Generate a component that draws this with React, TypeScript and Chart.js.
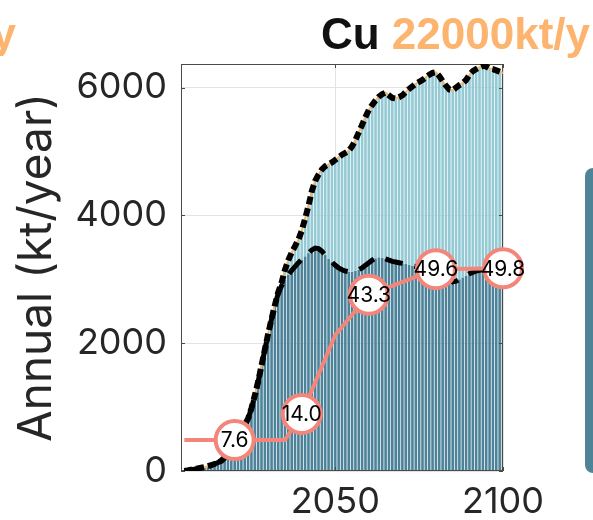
import React, { useEffect, useRef } from 'react';
import { Chart, registerables } from 'chart.js';

Chart.register(...registerables);

// Years 2005..2100 (one bar per year)
const YEARS: number[] = Array.from({ length: 96 }, (_, i) => 2005 + i);

// Total annual demand (kt/year) – top of light area
const TOTAL: number[] = [
  0, 10, 20, 30, 40, 50, 60, 75, 90, 110,
  130, 160, 210, 300, 400, 480, 560, 640, 720, 820,
  980, 1180, 1400, 1650, 1900, 2150, 2380, 2600, 2800, 2950,
  3150, 3300, 3420, 3520, 3620, 3760, 3950, 4150, 4380, 4540,
  4640, 4720, 4770, 4800, 4830, 4870, 4910, 4950, 4980, 5010,
  5080, 5180, 5300, 5420, 5540, 5650, 5730, 5800, 5860, 5900,
  5920, 5880, 5840, 5830, 5850, 5880, 5930, 5980, 6020, 6060,
  6090, 6120, 6160, 6200, 6230, 6240, 6180, 6100, 6030, 5970,
  5960, 6000, 6040, 6070, 6120, 6200, 6260, 6290, 6320, 6340,
  6330, 6300, 6290, 6270, 6250, 6230,
];

// Lower (dark) component (kt/year)
const BASE: number[] = [
  0, 10, 20, 30, 40, 50, 60, 75, 90, 110,
  130, 160, 210, 300, 400, 480, 560, 640, 720, 820,
  980, 1180, 1400, 1650, 1900, 2150, 2380, 2600, 2780, 2900,
  2990, 3070, 3140, 3200, 3260, 3310, 3360, 3410, 3460, 3490,
  3480, 3440, 3380, 3320, 3270, 3220, 3180, 3150, 3130, 3120,
  3120, 3130, 3150, 3180, 3220, 3260, 3300, 3330, 3345, 3340,
  3320, 3300, 3280, 3270, 3260, 3250, 3240, 3230, 3210, 3200,
  3190, 3180, 3170, 3160, 3150, 3130, 3100, 3060, 3020, 2980,
  2960, 2970, 3000, 3030, 3060, 3090, 3110, 3130, 3140, 3150,
  3160, 3170, 3180, 3190, 3200, 3210,
];

// Share line (%), on a hidden 0-100 axis
const SHARE_YEARS: number[] = [2005, 2020, 2035, 2040, 2050, 2060, 2080, 2100];
const SHARE_VALUES: number[] = [7.6, 7.6, 7.6, 14.0, 33.4, 43.3, 49.6, 49.8];
const SHARE_LABELS: string[] = ['', '7.6', '', '14.0', '', '43.3', '49.6', '49.8'];

const X_TICKS: number[] = [2050, 2100];
const Y_TICKS: number[] = [0, 2000, 4000, 6000];

const SALMON = '#f3857a';
const DARK = '#4d8399';
const LIGHT = '#95cad5';
const ORANGE = '#f7b766';
const TEXT = '#262626';

export default function App() {
  const ref = useRef<HTMLCanvasElement>(null);

  useEffect(() => {
    const canvas = ref.current;
    if (!canvas) return;

    const dark = YEARS.map((x, i) => ({ x, y: BASE[i] }));
    const light = YEARS.map((x, i) => ({ x, y: [BASE[i], TOTAL[i]] }));
    const totalLine = YEARS.map((x, i) => ({ x, y: TOTAL[i] }));
    const baseLine = YEARS.map((x, i) => ({ x, y: BASE[i] }));
    const share = SHARE_YEARS.map((x, i) => ({ x, y: SHARE_VALUES[i] }));

    const tickFont = { family: 'Inter', size: 36 };

    const framePlugin = {
      id: 'frame',
      afterDatasetDraw(chart: any, args: any) {
        if (chart.data.datasets[args.index].label !== 'Light') return;
        const { ctx, chartArea: a, scales } = chart;
        ctx.save();
        ctx.strokeStyle = '#4a4a4a';
        ctx.lineWidth = 1;
        ctx.strokeRect(a.left + 0.5, a.top + 0.5, a.right - a.left - 1, a.bottom - a.top - 1);
        ctx.beginPath();
        for (const v of Y_TICKS) {
          const y = Math.round(scales.y.getPixelForValue(v)) + 0.5;
          ctx.moveTo(a.left, y); ctx.lineTo(a.left + 4, y);
          ctx.moveTo(a.right, y); ctx.lineTo(a.right - 4, y);
        }
        for (const v of X_TICKS) {
          const x = Math.round(scales.x.getPixelForValue(v)) + 0.5;
          ctx.moveTo(x, a.bottom); ctx.lineTo(x, a.bottom - 4);
          ctx.moveTo(x, a.top); ctx.lineTo(x, a.top + 4);
        }
        ctx.stroke();
        ctx.restore();
      },
    };

    const labelPlugin = {
      id: 'shareLabels',
      afterDatasetsDraw(chart: any) {
        const idx = chart.data.datasets.findIndex((d: any) => d.label === 'Share');
        const meta = chart.getDatasetMeta(idx);
        const { ctx } = chart;
        ctx.save();
        ctx.font = '21px Inter';
        ctx.fillStyle = '#000';
        ctx.textAlign = 'center';
        ctx.textBaseline = 'middle';
        meta.data.forEach((pt: any, i: number) => {
          if (SHARE_LABELS[i]) ctx.fillText(SHARE_LABELS[i], pt.x, pt.y + 1);
        });
        ctx.restore();
      },
    };

    const chart = new Chart(canvas, {
      type: 'bar',
      data: {
        datasets: [
          {
            type: 'line', label: 'Share', data: share, yAxisID: 'y2',
            borderColor: SALMON, borderWidth: 4,
            pointRadius: SHARE_LABELS.map((l) => (l ? 19 : 0)),
            pointBackgroundColor: '#fff', pointBorderColor: SALMON, pointBorderWidth: 4,
            clip: false, order: 0,
          } as any,
          {
            type: 'line', label: 'Total', data: totalLine,
            borderColor: '#000', borderWidth: 6, borderDash: [8, 4], pointRadius: 0, order: 1,
          } as any,
          {
            type: 'line', label: 'Base', data: baseLine,
            borderColor: '#000', borderWidth: 5, borderDash: [18, 12], pointRadius: 0, order: 2,
          } as any,
          {
            type: 'line', label: 'TotalOrange', data: totalLine,
            borderColor: ORANGE, borderWidth: 2, pointRadius: 0, order: 3,
          } as any,
          {
            type: 'bar', label: 'Light', data: light, backgroundColor: LIGHT,
            barPercentage: 0.78, categoryPercentage: 1, grouped: false, order: 4,
          } as any,
          {
            type: 'bar', label: 'Dark', data: dark, backgroundColor: DARK,
            barPercentage: 0.78, categoryPercentage: 1, grouped: false, order: 5,
          } as any,
        ],
      },
      options: {
        animation: false,
        responsive: false,
        events: [],
        layout: { padding: { top: 64, right: 90, bottom: 0, left: 0 } },
        plugins: { legend: { display: false }, tooltip: { enabled: false } },
        scales: {
          x: {
            type: 'linear', min: 2004, max: 2100, offset: false,
            grid: { color: '#e3e3e3', drawTicks: false, offset: false },
            border: { display: false },
            ticks: {
              font: tickFont, color: TEXT, padding: 10, maxRotation: 0, autoSkip: false,
              callback: (v: any) => String(v),
            },
            afterBuildTicks: (s: any) => { s.ticks = X_TICKS.map((v) => ({ value: v })); },
            afterFit: (s: any) => { s.height = 49; },
          },
          y: {
            type: 'linear', min: 0, max: 6370,
            grid: { color: '#e3e3e3', drawTicks: false },
            border: { display: false },
            ticks: { font: tickFont, color: TEXT, padding: 14, callback: (v: any) => String(v) },
            afterBuildTicks: (s: any) => { s.ticks = Y_TICKS.map((v) => ({ value: v })); },
            title: {
              display: true, text: 'Annual (kt/year)', color: TEXT,
              font: { family: 'Inter', size: 46, lineHeight: 1 },
              padding: { top: 14, bottom: 0 },
            },
            afterFit: (s: any) => { s.width = 181; },
          },
          y2: { type: 'linear', display: false, min: 0, max: 100, position: 'right' },
        },
      } as any,
      plugins: [framePlugin, labelPlugin],
    });

    return () => chart.destroy();
  }, []);

  return (
    <div>
      <canvas
        ref={ref}
        width={593}
        height={520}
        style={{ position: 'absolute', left: 0, top: 0, width: 593, height: 520 }}
      />
      <div
        style={{
          position: 'absolute', left: 0, top: 12, width: 590, textAlign: 'right',
          font: 'bold 44px "Liberation Sans", Arial, sans-serif', lineHeight: '44px',
          color: '#111', whiteSpace: 'nowrap',
        }}
      >
        Cu <span style={{ color: '#fcb46f' }}>22000kt/y</span>
      </div>
      <div
        style={{
          position: 'absolute', left: -300, top: 12, width: 316, textAlign: 'right',
          font: 'bold 44px "Liberation Sans", Arial, sans-serif', lineHeight: '44px',
          color: '#fcb46f', whiteSpace: 'nowrap', overflow: 'hidden',
        }}
      >
        22000kt/y
      </div>
      <div
        style={{
          position: 'absolute', left: 585, top: 168, width: 8, height: 305,
          borderRadius: '12px 0 0 12px', background: '#4e8398',
        }}
      />
    </div>
  );
}
